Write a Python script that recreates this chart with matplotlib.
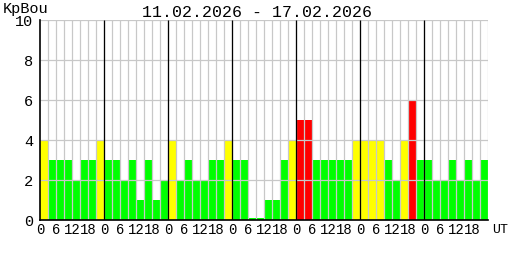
import matplotlib
matplotlib.use("Agg")
import matplotlib.pyplot as plt

# Kp index (Boulder), 3-hour intervals, 11.02.2026 - 17.02.2026
kp = [
    4, 3, 3, 3, 2, 3, 3, 4,
    3, 3, 2, 3, 1, 3, 1, 2,
    4, 2, 3, 2, 2, 3, 3, 4,
    3, 3, 0.1, 0.1, 1, 1, 3, 4,
    5, 5, 3, 3, 3, 3, 3, 4,
    4, 4, 4, 3, 2, 4, 6, 3,
    3, 2, 2, 3, 2, 3, 2, 3,
]
hours = [0, 6, 12, 18]
n_days = 7
yticks = [0, 2, 4, 6, 8, 10]
title = "11.02.2026 - 17.02.2026"

GREEN = "#00ff00"
YELLOW = "#ffff00"
RED = "#ff0000"
GRID = "#c8c8c8"
FONT = "Liberation Mono"
PAD = 2.5  # points, x tick label pad


def kp_color(v):
    if v >= 5:
        return RED
    if v >= 4:
        return YELLOW
    return GREEN


fig = plt.figure(figsize=(5.08, 2.6), dpi=100)
ax = fig.add_axes([40 / 508, 40 / 260, 448 / 508, 200 / 260])

n = len(kp)
ax.bar(range(n), kp, width=1, align="edge",
       color=[kp_color(v) for v in kp], linewidth=0, zorder=1)

# grid over the bars
ax.vlines(range(1, n + 1), 0, 10, color=GRID, lw=0.9, zorder=2)
ax.hlines(yticks[1:], 0, n, color=GRID, lw=0.9, zorder=2)
ax.vlines(range(8, n, 8), 0, 10, color="black", lw=0.9, zorder=3)

ax.set_xlim(0, n)
ax.set_ylim(0, 10)
for s in ("top", "right"):
    ax.spines[s].set_visible(False)
for s in ("left", "bottom"):
    ax.spines[s].set_linewidth(1.2)
    ax.spines[s].set_zorder(4)

ax.set_yticks(yticks)
ax.set_yticklabels([str(t) for t in yticks], fontfamily=FONT, fontsize=11)

xt = [d * 8 + h / 3 for d in range(n_days) for h in hours]
xl = [str(h) for d in range(n_days) for h in hours]
ax.set_xticks(xt)
ax.set_xticklabels(xl, fontfamily=FONT, fontsize=10)
ax.tick_params(length=0, pad=PAD)
ax.tick_params(axis="y", pad=5)

# "UT" unit label, aligned with the hour labels
ax.text((492 - 40) / 448, -(PAD * 100 / 72 + 0.5) / 200, "UT",
        transform=ax.transAxes, ha="left", va="top",
        fontfamily=FONT, fontsize=9.5)
fig.text(3 / 508, 1 - 9 / 260, "KpBou", ha="left", va="center",
         fontfamily=FONT, fontsize=11)
fig.text(257 / 508, 1 - 12 / 260, title, ha="center", va="center",
         fontfamily=FONT, fontsize=12)

fig.savefig("out.png", dpi=100, facecolor="white")
